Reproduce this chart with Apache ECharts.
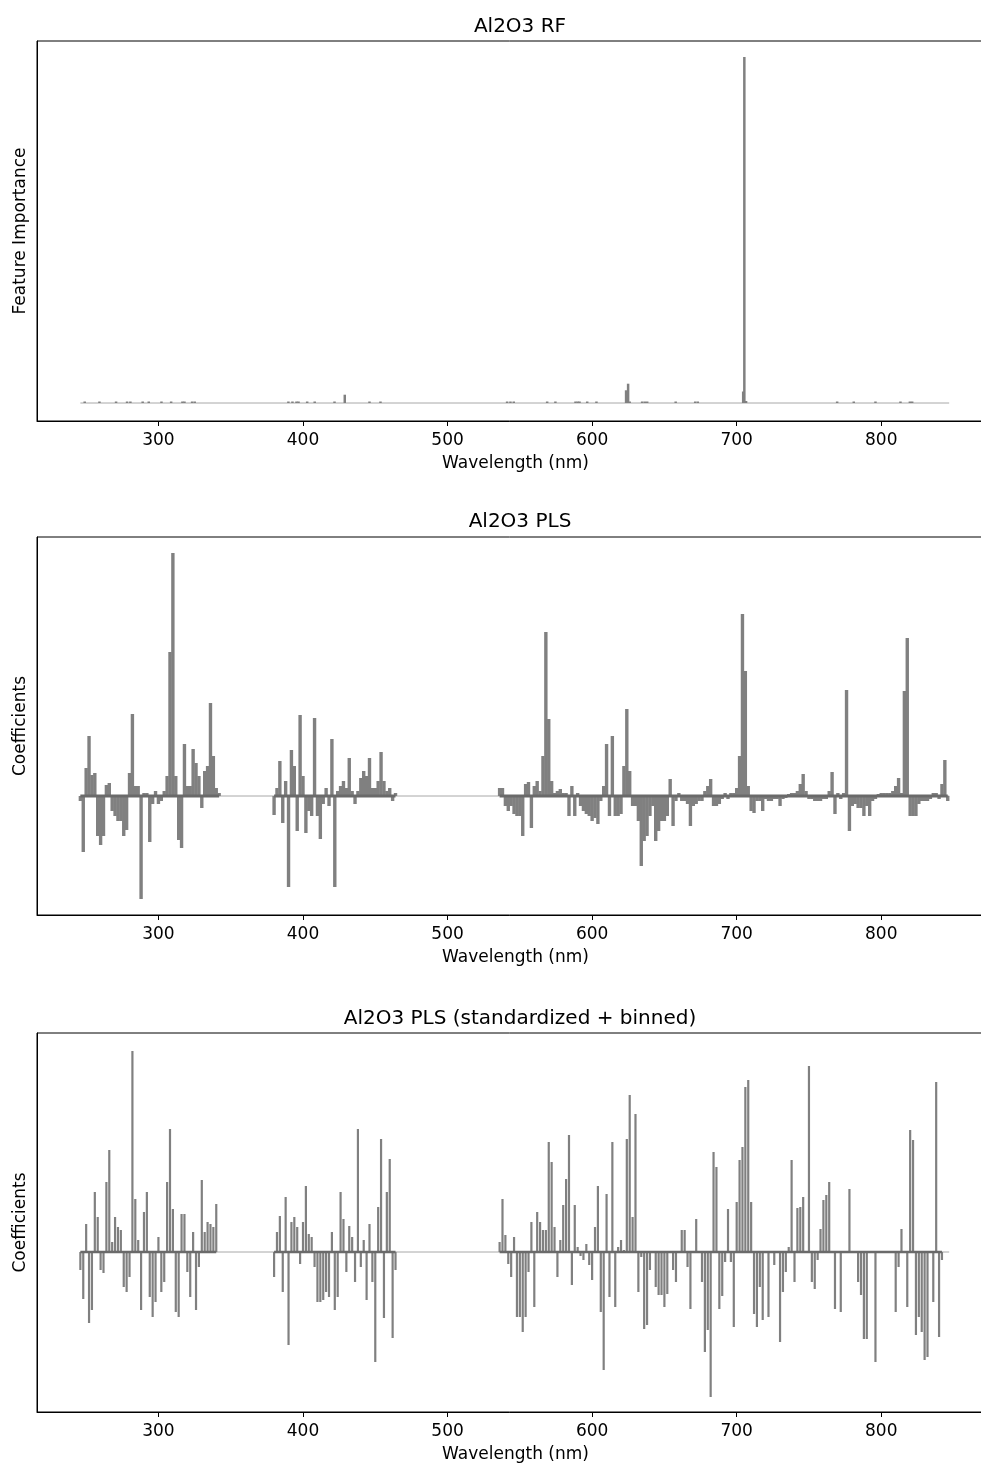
<!DOCTYPE html>
<html><head><meta charset="utf-8">
<script src="https://cdn.jsdelivr.net/npm/echarts@6/dist/echarts.min.js"></script>
<style>html,body{margin:0;padding:0;background:#fff}#c{width:981px;height:1463px}</style>
</head><body><div id="c"></div>
<script>
// ---- text ----
const titles = ['Al2O3 RF', 'Al2O3 PLS', 'Al2O3 PLS (standardized + binned)'];
const yNames = ['Feature Importance', 'Coefficients', 'Coefficients'];
const xName = 'Wavelength (nm)';
const xTicks = [300, 400, 500, 600, 700, 800];
const xMin = 216, xMax = 878;
const baselineRange = [246, 847];

// ---- Panel 1: Random forest feature importance (relative units) ----
const rfWavelength = [249.0, 259.2, 270.7, 278.3, 280.6, 289.1, 293.3, 302.1, 308.8, 316.6, 318.0, 323.3, 325.1,
  389.9, 392.7, 395.5, 396.9, 402.9, 408.1, 421.8, 428.9, 446.0, 453.6,
  541.2, 543.5, 545.8, 568.9, 574.6, 588.5, 590.0, 591.3, 596.6, 603.0, 623.5, 624.9, 626.0,
  634.6, 636.4, 638.1, 657.8, 671.3, 673.1, 704.5, 705.3, 706.5, 769.5, 781.0, 796.0, 813.3, 819.8, 821.4];
const rfImportance = [1.5, 1.5, 1.5, 1.5, 1.5, 1.5, 1.5, 1.5, 1.5, 1.5, 1.5, 1.5, 1.5,
  1.5, 1.5, 1.5, 1.5, 1.5, 1.5, 1.5, 8.3, 1.5, 1.5,
  1.5, 1.5, 1.5, 1.5, 1.5, 1.5, 1.5, 1.5, 1.5, 1.5, 12.7, 19.3, 1.5,
  1.5, 1.5, 1.5, 1.5, 1.5, 1.5, 11.5, 346, 2.0, 1.5, 1.5, 1.5, 1.5, 1.5, 1.5];

// ---- Panel 2: PLS coefficients, 2 nm sampling, three spectrometer ranges ----
const sampleStep = 2;
const plsStarts = [246, 380, 536];
const plsUV = [-5,-56,28,60,21,23,-40,-49,-40,11, 13,-15,-20,-25,-25,-40,-34,23,82,10,
  10,-103,3,3,-46,-8,5,-8,-5,5, 20,144,243,20,-44,-52,52,10,10,47, 33,20,-12,25,30,93,40,8,3];
const plsVIO = [-19,8,35,-27,15,-91,46,30,-35,81, 20,-37,-15,-20,78,-20,-43,-8,8,-10,
  57,-91,5,10,15,8,38,5,-8,5, 18,25,20,38,8,8,15,44,15,5, 8,-5,3];
const plsVNIR = [8,8,-10,-15,-10,-18,-20,-20,-40,12, 14,-32,10,15,5,40,164,77,15,3,
  5,7,3,3,-20,10,-20,3,-10,-15, -18,-20,-25,-22,-28,-5,10,52,-20,60,
  -20,-20,-18,30,87,25,-10,-10,-25,-70, -45,-40,-20,-10,-45,-35,-25,-25,-20,17,
  -30,-5,3,-5,-5,-8,-30,-10,-8,-5, -5,5,10,17,-10,-10,-8,-3,3,-3,
  3,3,8,40,182,125,10,-15,-17,-5, -5,-15,-3,-5,-5,-3,-3,-10,-3,-2,
  2,3,3,5,12,22,5,-3,-3,-5, -5,-5,-3,-3,5,24,-18,3,-3,3,
  106,-35,-10,-8,-12,-12,-20,-10,-20,-5, -3,2,3,3,3,3,5,10,18,3,
  105,158,-20,-20,-20,-8,-5,-5,-5,-3, 3,3,-3,12,36,-5];

// ---- Panel 3: PLS coefficients on standardized + binned data (2 nm bins) ----
const binStarts = [246, 380, 536];
const binUV = [-18,-47,28,-71,-58,60,35,-18,-21,70, 102,10,35,25,22,-35,-40,-25,201,53,
  12,-58,40,60,-45,-65,-50,15,-40,-30, 70,123,43,-60,-65,38,38,-20,-45,20, -58,-15,72,20,30,28,25,48];
const binVIO = [-25,20,36,-40,55,-93,30,35,25,-12, 30,66,18,15,-15,-50,-50,-48,-40,-45,
  20,-58,-45,60,33,-20,26,15,-30,123, -15,12,-48,28,-30,-110,45,113,-66,60, 93,-86,-18];
const binVNIR = [10,53,17,-12,-25,15,-65,-65,-80,-65, -20,30,-55,40,30,22,22,110,90,25,
  -25,12,47,73,117,-33,47,5,-4,-8, 8,-13,-28,25,66,-60,-118,58,-45,110,
  -55,5,12,2,113,157,35,138,-40,-5, -77,-73,-18,0,-35,-43,-43,-55,-42,0,
  -18,-30,0,22,22,-15,-57,0,33,0, -30,-100,-78,-145,100,85,-57,-44,-10,43,
  -10,-75,50,92,105,165,172,50,-62,-75, -35,-68,0,-65,0,-13,0,-90,-40,-20,
  5,92,-30,44,45,55,0,186,-30,-37, -8,23,52,57,70,0,-57,0,-60,0,
  0,63,0,0,-30,-43,-87,-87,0,0, -110,0,0,0,0,0,0,-60,-15,23,
  0,-55,122,112,-83,-65,-80,-108,-105,0, -50,170,-85,-8];

const yRanges = [[-18, 362], [-119, 259], [-160, 219]];

// ---- build ----
function toPairs(starts, segs) {
  const out = [];
  segs.forEach((vals, s) => vals.forEach((v, i) => out.push([starts[s] + i * sampleStep, v])));
  return out;
}
function segEnds(starts, segs) {
  return segs.map((vals, s) => [starts[s], starts[s] + (vals.length - 1) * sampleStep]);
}
const barData = [
  rfWavelength.map((w, i) => [w, rfImportance[i]]),
  toPairs(plsStarts, [plsUV, plsVIO, plsVNIR]),
  toPairs(binStarts, [binUV, binVIO, binVNIR])
];
const thickSegs = [[], segEnds(plsStarts, [plsUV, plsVIO, plsVNIR]), segEnds(binStarts, [binUV, binVIO, binVNIR])];
const barWidths = [2.5, 3.4, 2.2];
const thickWidths = [0, 3, 2.5];

const FONT = 'DejaVu Sans';
const tops = [41, 537, 1033];
const heights = [380, 378, 379];
const titleTops = [12, 507, 1004];

const grid = [], xAxis = [], yAxis = [], series = [], title = [];
for (let i = 0; i < 3; i++) {
  grid.push({left: 37, top: tops[i], width: 957, height: heights[i], show: true,
    outerBoundsMode: 'none', containLabel: false,
    borderColor: '#000', borderWidth: 1, backgroundColor: 'transparent'});
  title.push({text: titles[i], left: 515, top: titleTops[i], textAlign: 'center',
    textStyle: {fontFamily: FONT, fontSize: 20, fontWeight: 'normal', color: '#000'}});
  xAxis.push({type: 'value', gridIndex: i, min: xMin, max: xMax,
    axisLine: {show: true, onZero: false, lineStyle: {color: '#000', width: 1}},
    axisTick: {show: true, customValues: xTicks, length: 5, lineStyle: {color: '#000', width: 1}},
    axisLabel: {customValues: xTicks, fontFamily: FONT, fontSize: 17, color: '#000', margin: 11},
    splitLine: {show: false},
    name: xName, nameLocation: 'middle', nameGap: 34,
    nameTextStyle: {fontFamily: FONT, fontSize: 17, color: '#000'}});
  yAxis.push({type: 'value', gridIndex: i, min: yRanges[i][0], max: yRanges[i][1],
    axisLine: {show: true, onZero: false, lineStyle: {color: '#000', width: 1}},
    axisTick: {show: false}, axisLabel: {show: false}, splitLine: {show: false},
    name: yNames[i], nameLocation: 'middle', nameGap: 8,
    nameTextStyle: {fontFamily: FONT, fontSize: 17, color: '#000'}});
  series.push({type: 'line', xAxisIndex: i, yAxisIndex: i, z: 1, silent: true, symbol: 'none',
    data: [[baselineRange[0], 0], [baselineRange[1], 0]],
    lineStyle: {color: '#a8a8a8', width: 1}});
  series.push({type: 'bar', xAxisIndex: i, yAxisIndex: i, z: 2, barWidth: barWidths[i],
    data: barData[i], itemStyle: {color: '#808080'}});
  thickSegs[i].forEach(seg => series.push({type: 'line', xAxisIndex: i, yAxisIndex: i, z: 3, silent: true,
    symbol: 'none', data: [[seg[0], 0], [seg[1], 0]], lineStyle: {color: '#6a6a6a', width: thickWidths[i]}}));
}

const chart = echarts.init(document.getElementById('c'), null, {renderer: 'canvas'});
chart.setOption({animation: false, backgroundColor: '#fff', title, grid, xAxis, yAxis, series});
</script></body></html>
